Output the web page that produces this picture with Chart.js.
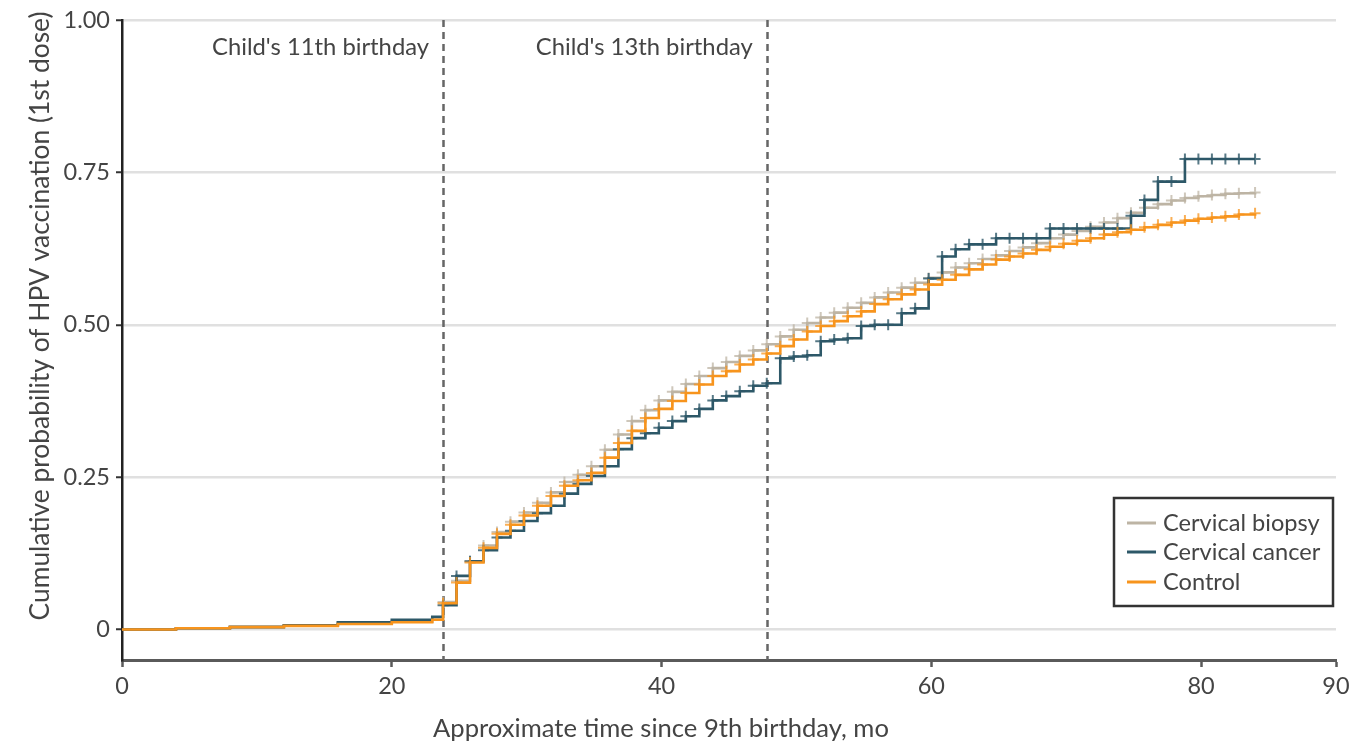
<!DOCTYPE html>
<html>
<head>
<meta charset="utf-8">
<script src="https://cdn.jsdelivr.net/npm/chart.js@4.4.1/dist/chart.umd.min.js"></script>
<style>
  html, body { margin: 0; padding: 0; background: #fff; }
  #wrap { width: 1363px; height: 743px; position: relative; }
</style>
</head>
<body>
<div id="wrap"><canvas id="c"></canvas></div>
<script>
// months since 9th birthday (x values of the step curve)
const months = [0, 4, 8, 12, 16, 20, 23,
  23.8, 24.8, 25.8, 26.8, 27.8, 28.8, 29.8, 30.8, 31.8, 32.8,
  33.8, 34.8, 35.8, 36.8, 37.8, 38.8, 39.8, 40.8, 41.8, 42.8,
  43.8, 44.8, 45.8, 46.8, 47.8, 48.8, 49.8, 50.8, 51.8, 52.8,
  53.8, 54.8, 55.8, 56.8, 57.8, 58.8, 59.8, 60.8, 61.8, 62.8,
  63.8, 64.8, 65.8, 66.8, 67.8, 68.8, 69.8, 70.8, 71.8, 72.8,
  73.8, 74.8, 75.8, 76.8, 77.8, 78.8, 79.8, 80.8, 81.8, 82.8,
  84];

const biopsy = [0, 0.002, 0.005, 0.007, 0.010, 0.013, 0.017,
  0.045, 0.080, 0.112, 0.138, 0.160, 0.177, 0.192, 0.208, 0.225, 0.242,
  0.254, 0.268, 0.295, 0.320, 0.342, 0.360, 0.376, 0.390, 0.403, 0.416,
  0.429, 0.439, 0.449, 0.458, 0.468, 0.481, 0.492, 0.503, 0.512, 0.520,
  0.528, 0.536, 0.545, 0.553, 0.561, 0.569, 0.577, 0.586, 0.594, 0.601,
  0.608, 0.614, 0.621, 0.627, 0.634, 0.642, 0.648, 0.654, 0.661, 0.668,
  0.675, 0.684, 0.692, 0.698, 0.704, 0.708, 0.711, 0.713, 0.715, 0.716,
  0.717];

const cancer = [0, 0.002, 0.004, 0.007, 0.012, 0.016, 0.021,
  0.040, 0.088, 0.112, 0.130, 0.151, 0.162, 0.178, 0.191, 0.203, 0.223,
  0.239, 0.252, 0.268, 0.296, 0.314, 0.322, 0.331, 0.342, 0.350, 0.362,
  0.376, 0.383, 0.391, 0.400, 0.404, 0.445, 0.448, 0.450, 0.473, 0.476,
  0.478, 0.498, 0.500, 0.500, 0.519, 0.527, 0.576, 0.612, 0.624, 0.632,
  0.632, 0.642, 0.642, 0.642, 0.642, 0.658, 0.658, 0.658, 0.658, 0.658,
  0.658, 0.679, 0.705, 0.735, 0.735, 0.772, 0.772, 0.772, 0.772, 0.772,
  0.772];

const control = [0, 0.002, 0.004, 0.006, 0.009, 0.012, 0.016,
  0.043, 0.077, 0.110, 0.134, 0.157, 0.172, 0.187, 0.203, 0.219, 0.236,
  0.245, 0.257, 0.282, 0.306, 0.326, 0.347, 0.362, 0.375, 0.388, 0.402,
  0.416, 0.424, 0.435, 0.443, 0.453, 0.465, 0.476, 0.489, 0.498, 0.506,
  0.514, 0.522, 0.534, 0.542, 0.550, 0.558, 0.566, 0.574, 0.582, 0.591,
  0.599, 0.607, 0.612, 0.617, 0.623, 0.628, 0.633, 0.638, 0.642, 0.648,
  0.652, 0.656, 0.660, 0.664, 0.668, 0.671, 0.674, 0.676, 0.678, 0.681,
  0.683];

const seriesNames = ['Cervical biopsy', 'Cervical cancer', 'Control'];
const xTicks = [0, 20, 40, 60, 80, 90];
const yTicks = [0, 0.25, 0.5, 0.75, 1];
const yTickLabels = ['0', '0.25', '0.50', '0.75', '1.00'];
const markers = [
  { x: 23.8, label: "Child's 11th birthday" },
  { x: 47.8, label: "Child's 13th birthday" }
];

const FONT = 'Lato, "Liberation Sans", sans-serif';
const TXT = '#444';

function toPoints(vals){
  return months.map((m, i) => ({ x: m, y: vals[i] }));
}

function makeSet(label, vals, color, crossColor, order){
  return {
    label,
    data: toPoints(vals),
    borderColor: color,
    backgroundColor: color,
    borderWidth: 2.6,
    stepped: 'before',
    fill: false,
    order,
    pointStyle: 'cross',
    pointRadius: ctx => (ctx.raw && ctx.raw.x >= 23.5 ? 5.5 : 0),
    pointBorderColor: crossColor,
    pointBorderWidth: 2,
    pointHoverRadius: 0
  };
}

const overlay = {
  id: 'overlay',
  beforeDatasetsDraw(chart){
    const {ctx, chartArea, scales} = chart;
    ctx.save();
    ctx.strokeStyle = '#666';
    ctx.lineWidth = 2.5;
    ctx.setLineDash([7, 5]);
    markers.forEach(m => {
      const px = Math.round(scales.x.getPixelForValue(m.x)) + 0.5;
      ctx.beginPath();
      ctx.moveTo(px, chartArea.top);
      ctx.lineTo(px, chartArea.bottom);
      ctx.stroke();
    });
    ctx.restore();
  },
  afterDraw(chart){
    const {ctx, scales, data} = chart;
    ctx.save();
    ctx.fillStyle = TXT;
    ctx.font = '23.8px ' + FONT;
    ctx.textAlign = 'right';
    ctx.textBaseline = 'middle';
    markers.forEach(m => {
      const px = scales.x.getPixelForValue(m.x);
      ctx.fillText(m.label, px - 14, 47);
    });

    // axis titles
    ctx.font = '25.6px ' + FONT;
    ctx.textAlign = 'center';
    ctx.fillText('Approximate time since 9th birthday, mo', 661, 729);
    ctx.save();
    ctx.translate(40, 316);
    ctx.rotate(-Math.PI / 2);
    ctx.font = '26.4px ' + FONT;
    ctx.fillText('Cumulative probability of HPV vaccination (1st dose)', 0, 0);
    ctx.restore();

    // legend box
    const bx = 1114, by = 498, bw = 219, bh = 108;
    ctx.fillStyle = '#fff';
    ctx.fillRect(bx, by, bw, bh);
    ctx.strokeStyle = '#333';
    ctx.lineWidth = 2.5;
    ctx.strokeRect(bx, by, bw, bh);
    ctx.font = '23.6px ' + FONT;
    ctx.textAlign = 'left';
    const rows = [523, 552, 582];
    data.datasets.forEach((ds, i) => {
      const y = rows[i];
      ctx.strokeStyle = ds.borderColor;
      ctx.lineWidth = 3;
      ctx.beginPath();
      ctx.moveTo(1127, y);
      ctx.lineTo(1156, y);
      ctx.stroke();
      ctx.fillStyle = TXT;
      ctx.fillText(ds.label, 1163, y);
    });
    ctx.restore();
  }
};

new Chart(document.getElementById('c'), {
  type: 'line',
  data: {
    datasets: [
      makeSet(seriesNames[0], biopsy, '#bdb4a4', 'rgba(189,180,164,0.75)', 2),
      makeSet(seriesNames[1], cancer, '#2d5868', 'rgba(45,88,104,0.8)', 1),
      makeSet(seriesNames[2], control, '#f7941d', 'rgba(247,148,29,0.75)', 0)
    ]
  },
  options: {
    responsive: true,
    maintainAspectRatio: false,
    animation: false,
    events: [],
    layout: { padding: { top: 18, right: 27, left: 0, bottom: 0 } },
    plugins: { legend: { display: false }, tooltip: { enabled: false } },
    scales: {
      x: {
        type: 'linear',
        min: 0,
        max: 90,
        afterBuildTicks: s => { s.ticks = xTicks.map(v => ({ value: v })); },
        afterFit: s => { s.height = 83; },
        border: { color: '#5a5a5a', width: 3 },
        grid: { drawOnChartArea: false, drawTicks: true, tickLength: 7, tickColor: '#5a5a5a', tickWidth: 2.5 },
        ticks: { color: TXT, font: { family: FONT, size: 23.5 }, padding: 5, maxRotation: 0 }
      },
      y: {
        min: -0.05,
        max: 1,
        afterBuildTicks: s => { s.ticks = yTicks.map(v => ({ value: v })); },
        afterFit: s => { s.width = 122; },
        border: { color: '#222', width: 2.5 },
        grid: { color: '#e0e0e0', lineWidth: 2.5, drawTicks: true, tickLength: 6, tickColor: '#333', tickWidth: 2 },
        ticks: {
          color: TXT,
          font: { family: FONT, size: 23.5 },
          padding: 6,
          callback: v => yTickLabels[yTicks.indexOf(v)]
        }
      }
    }
  },
  plugins: [overlay]
});
</script>
</body>
</html>
